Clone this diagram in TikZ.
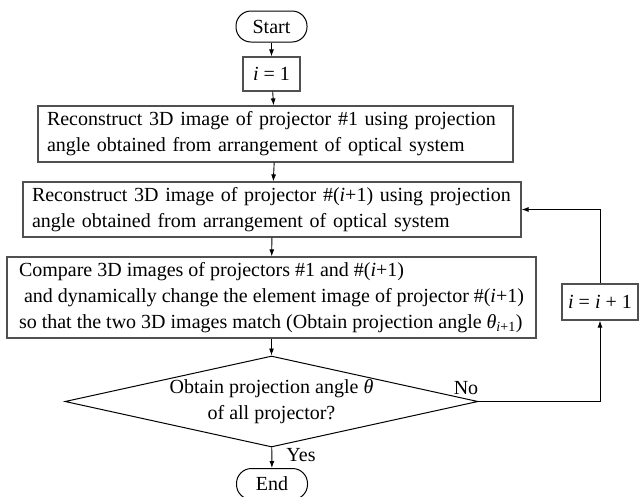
\documentclass[tikz,border=0pt]{standalone}
\usepackage{fontspec}
\setmainfont{Liberation Serif}
\usepackage{tikz}
\usetikzlibrary{arrows,arrows.meta,shapes,positioning}
\hyphenpenalty=10000
\definecolor{boxgray}{RGB}{80,80,80}
\tikzstyle{arrow} = [line width=0.9pt,-{Latex[length=7pt,width=5pt]}]
\tikzstyle{terminal} = [draw, line width=1pt, rectangle, rounded corners=15pt, minimum width=71pt, minimum height=31pt, inner sep=0pt]
\tikzstyle{procbox} = [draw=boxgray, line width=1.2pt, rectangle, inner ysep=0pt, inner xsep=9pt, align=left]
\tikzstyle{decision} = [draw, line width=1pt, diamond, aspect=4.5, inner sep=0pt, align=center]

\begin{document}
\begin{tikzpicture}[x=1pt, y=-1pt, font=\fontsize{20pt}{26pt}\selectfont]
\useasboundingbox (0,0) rectangle (642,496);

% Main column
\node[terminal] (start) at (271.5,26.5) {Start};
\node[procbox, minimum width=57pt, minimum height=34pt, inner xsep=0pt, align=center] (init) at (271.5,74) {\textit{i} = 1};
\node[procbox, text width=457pt, minimum height=56pt] (recone) at (275.5,134)
  {Reconstruct 3D image of projector \#1 using projection\\angle obtained from arrangement of optical system};
\node[procbox, text width=480pt, minimum height=55pt] (recnext) at (272,209.5)
  {Reconstruct 3D image of projector \#(\textit{i}+1) using projection\\angle obtained from arrangement of optical system};
\node[procbox, inner xsep=0pt, minimum width=529pt, minimum height=81pt] (compare) at (271.5,297.5)
  {Compare 3D images of projectors \#1 and \#(\textit{i}+1)\\
   \hspace{0.25em}and dynamically change the element image of projector \#(\textit{i}+1)\\
   so that the two 3D images match (Obtain projection angle \textit{θ}\textsubscript{\textit{i}+1})};
\node[decision, minimum width=413pt, minimum height=91pt] (check) at (271.5,401.5)
  {Obtain projection angle \textit{θ}\\of all projector?};
\node[terminal] (finish) at (272,484) {End};

% Loop back
\node[procbox, minimum width=76pt, minimum height=36pt, inner xsep=0pt, align=center] (incr) at (600,302) {\textit{i} = \textit{i} + 1};
\node (no) at (466,388) {No};
\node (yes) at (301,455) {Yes};

% Arrows
\draw[arrow] (start) -- (init);
\draw[arrow] (init) -- (recone);
\draw[arrow] (recone) -- (recnext);
\draw[arrow] (recnext) -- (compare);
\draw[arrow] (compare) -- (check);
\draw[arrow] (check) -- (finish);
\draw[arrow] (check.east) -| (incr.south);
\draw[arrow] (incr.north) |- (recnext.east);
\end{tikzpicture}
\end{document}
